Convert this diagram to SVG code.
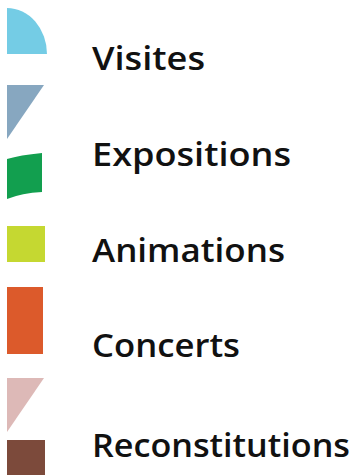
<svg xmlns="http://www.w3.org/2000/svg" width="359" height="475" viewBox="0 0 359 475">
<style>
.lbl{font-family:"Open Sans",Lato,"Liberation Sans",sans-serif;font-weight:600;font-size:33px;fill:#111;font-variant-ligatures:none;}
</style>
<rect width="359" height="475" fill="#fff"/>
<g id="visites">
<path d="M7,54 L7,8 A40,46 0 0 1 47,54 Z" fill="#74CCE5"/>
<text class="lbl" x="92" y="70" textLength="113" lengthAdjust="spacingAndGlyphs">Visites</text>
</g>
<g id="triangle-bleu">
<path d="M7,85 L44,85 L7,139 Z" fill="#87A7C0"/>
</g>
<g id="expositions">
<path d="M7,159 Q20,155 42,153 L42,192 Q22,193 7,199 Z" fill="#129F4F"/>
<text class="lbl" x="92" y="166" textLength="199" lengthAdjust="spacingAndGlyphs">Expositions</text>
</g>
<g id="animations">
<rect x="7" y="226" width="38" height="36" fill="#C5D831"/>
<text class="lbl" x="92" y="262" textLength="193" lengthAdjust="spacingAndGlyphs">Animations</text>
</g>
<g id="concerts">
<rect x="7" y="287" width="36" height="67" fill="#DC5A2B"/>
<text class="lbl" x="92" y="357" textLength="148" lengthAdjust="spacingAndGlyphs">Concerts</text>
</g>
<g id="triangle-rose">
<path d="M7,378 L44,378 L7,432 Z" fill="#DDB9B7"/>
</g>
<g id="reconstitutions">
<rect x="7" y="440" width="38" height="35" fill="#7C4A3B"/>
<text class="lbl" x="92" y="457" textLength="258" lengthAdjust="spacingAndGlyphs">Reconstitutions</text>
</g>
</svg>
